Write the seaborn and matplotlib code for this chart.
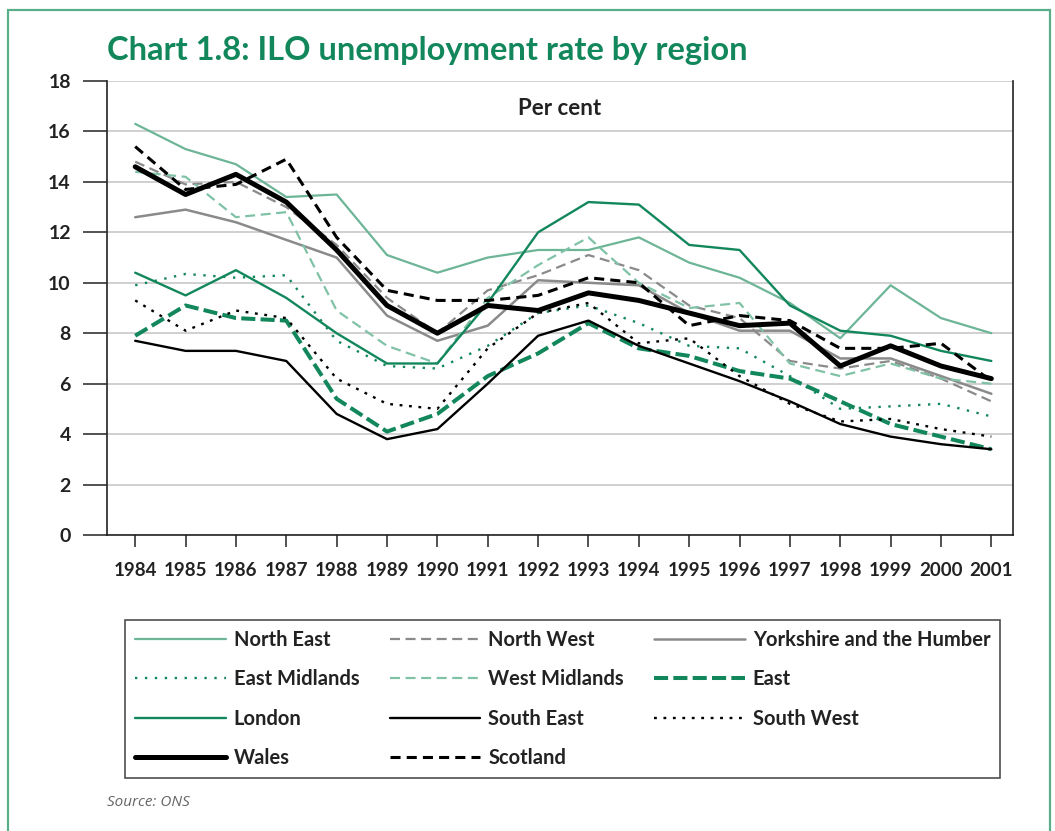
import matplotlib
matplotlib.use("Agg")
import matplotlib.pyplot as plt
from matplotlib.lines import Line2D
from matplotlib.patches import Rectangle
import pandas as pd
import seaborn as sns

# data (per cent)
years = list(range(1984, 2002))
north_east = [16.3, 15.3, 14.7, 13.4, 13.5, 11.1, 10.4, 11.0, 11.3, 11.3, 11.8, 10.8, 10.2, 9.2, 7.8, 9.9, 8.6, 8.0]
north_west = [14.8, 13.9, 14.0, 13.0, 11.5, 9.4, 8.0, 9.7, 10.3, 11.1, 10.5, 9.1, 8.6, 6.9, 6.6, 6.9, 6.2, 5.3]
yorkshire = [12.6, 12.9, 12.4, 11.7, 11.0, 8.7, 7.7, 8.3, 10.1, 10.0, 9.9, 8.8, 8.1, 8.1, 7.0, 7.0, 6.3, 5.6]
east_midlands = [9.9, 10.35, 10.2, 10.3, 7.7, 6.7, 6.6, 7.5, 8.8, 9.1, 8.4, 7.5, 7.4, 6.3, 5.0, 5.1, 5.2, 4.7]
west_midlands = [14.4, 14.2, 12.6, 12.8, 8.9, 7.5, 6.8, 9.4, 10.7, 11.8, 10.0, 9.0, 9.2, 6.8, 6.3, 6.8, 6.2, 6.0]
east = [7.9, 9.1, 8.6, 8.5, 5.4, 4.1, 4.8, 6.3, 7.2, 8.4, 7.4, 7.1, 6.5, 6.2, 5.3, 4.4, 3.9, 3.4]
london = [10.4, 9.5, 10.5, 9.4, 8.0, 6.8, 6.8, 9.2, 12.0, 13.2, 13.1, 11.5, 11.3, 9.1, 8.1, 7.9, 7.3, 6.9]
south_east = [7.7, 7.3, 7.3, 6.9, 4.8, 3.8, 4.2, 6.0, 7.9, 8.5, 7.5, 6.8, 6.1, 5.3, 4.4, 3.9, 3.6, 3.4]
south_west = [9.3, 8.1, 8.9, 8.6, 6.2, 5.2, 5.0, 7.4, 8.8, 9.2, 7.6, 7.8, 6.3, 5.2, 4.5, 4.6, 4.2, 3.9]
wales = [14.6, 13.5, 14.3, 13.2, 11.3, 9.1, 8.0, 9.1, 8.9, 9.6, 9.3, 8.8, 8.3, 8.4, 6.7, 7.5, 6.7, 6.2]
scotland = [15.4, 13.7, 13.9, 14.9, 11.8, 9.7, 9.3, 9.3, 9.5, 10.2, 10.0, 8.3, 8.7, 8.5, 7.4, 7.4, 7.6, 6.1]

regions = ["North East", "North West", "Yorkshire and the Humber",
           "East Midlands", "West Midlands", "East",
           "London", "South East", "South West",
           "Wales", "Scotland"]
values = [north_east, north_west, yorkshire, east_midlands, west_midlands, east,
          london, south_east, south_west, wales, scotland]

GREEN = "#13875c"
LIGHT = "#6db597"
GREY = "#8a8a8a"
INK = "#222222"

# colour, linewidth, linestyle
styles = {
    "North East": (LIGHT, 1.6, "-"),
    "North West": (GREY, 1.6, (0, (4.5, 2.5))),
    "Yorkshire and the Humber": (GREY, 1.8, "-"),
    "East Midlands": (GREEN, 1.7, (0, (1, 3.2))),
    "West Midlands": ("#80c2a6", 1.6, (0, (4.5, 2.5))),
    "East": (GREEN, 2.9, (0, (3.5, 1.3))),
    "London": (GREEN, 1.7, "-"),
    "South East": ("black", 1.7, "-"),
    "South West": ("black", 1.7, (0, (1.2, 2.8))),
    "Wales": ("black", 3.6, "-"),
    "Scotland": ("black", 2.2, (0, (3.3, 2.0))),
}

df = pd.DataFrame({"year": years * len(regions),
                   "region": [r for r in regions for _ in years],
                   "rate": [v for vals in values for v in vals]})

sns.set_style("white")
plt.rcParams["font.family"] = ["Lato", "DejaVu Sans"]

fig = plt.figure(figsize=(10.55, 8.31), dpi=100)
ax = fig.add_axes([107 / 1055, 1 - 535 / 831, 906 / 1055, 454 / 831])

for r in regions:
    c, lw, ls = styles[r]
    sns.lineplot(data=df[df.region == r], x="year", y="rate", ax=ax,
                 color=c, lw=lw, linestyle=ls, legend=False)

ax.set_xlim(1983.44, 2001.43)
ax.set_ylim(0, 18)
ax.set_xticks(years)
ax.set_yticks(range(0, 19, 2))
ax.set_xlabel("")
ax.set_ylabel("")
ax.yaxis.grid(True, color="#c8c8c8", lw=1.2)
ax.set_axisbelow(True)
ax.spines["top"].set_visible(False)
for s in ["left", "bottom", "right"]:
    ax.spines[s].set_color(INK)
    ax.spines[s].set_linewidth(1.2)
ax.tick_params(axis="y", left=True, length=17, width=1.1, pad=9,
               labelsize=14, colors=INK)
ax.tick_params(axis="x", bottom=True, length=8.5, width=1.1, pad=11,
               labelsize=13.5, colors=INK)
for lab in ax.get_xticklabels() + ax.get_yticklabels():
    lab.set_fontweight("bold")

ax.text(0.5, 0.94, "Per cent", transform=ax.transAxes, ha="center", va="center",
        fontsize=16, fontweight="bold", color=INK)

fig.text(107 / 1055, 1 - 60 / 831, "Chart 1.8: ILO unemployment rate by region",
         fontsize=23.5, fontweight="bold", color=GREEN, ha="left", va="baseline")

fig.text(107 / 1055, 1 - 803 / 831, "Source: ONS", fontsize=11, style="italic",
         color="#666666", ha="left", va="center", family=["Open Sans", "DejaVu Sans"])

# legend, filled row by row like the original
order = [0, 3, 6, 9, 1, 4, 7, 10, 2, 5, 8]
handles = []
for i in order:
    c, lw, ls = styles[regions[i]]
    handles.append(Line2D([], [], color=c, lw=lw, linestyle=ls, label=regions[i]))
leg = fig.legend(handles=handles, loc="upper left", ncol=3,
                 bbox_to_anchor=(125 / 1055, 1 - 620 / 831), borderaxespad=0,
                 frameon=True, fancybox=False, edgecolor=INK,
                 prop={"size": 14.5, "weight": "bold"},
                 handlelength=4.5, handletextpad=0.4, columnspacing=1.5,
                 labelspacing=0.96, borderpad=0.5)
leg.get_frame().set_linewidth(1.2)
for t in leg.get_texts():
    t.set_color(INK)

fig.patches.append(Rectangle((8 / 1055, -0.05), 1042 / 1055, 1.05 - 10 / 831,
                             transform=fig.transFigure, fill=False,
                             ec="#5aae8a", lw=1.6))

fig.savefig("out.png", dpi=100)
